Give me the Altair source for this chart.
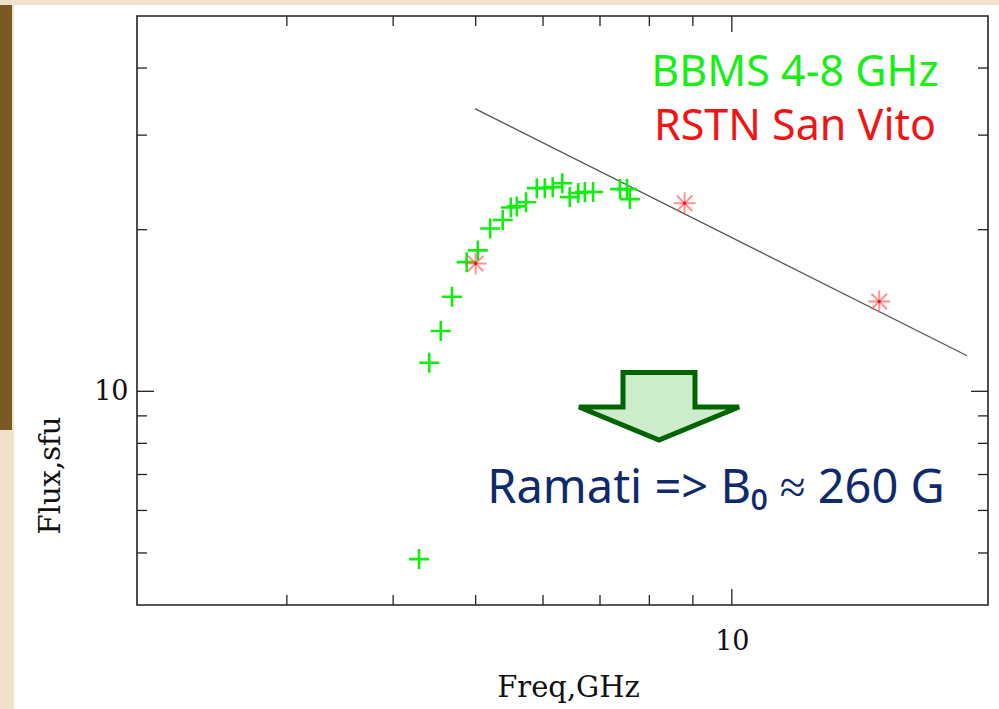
import altair as alt
import pandas as pd

# ---- data ----
bbms_freq = [4.29, 4.41, 4.55, 4.69, 4.88, 5.03, 5.20, 5.38, 5.50, 5.59, 5.73,
             5.90, 6.03, 6.16, 6.32, 6.45, 6.60, 6.72, 6.87, 7.39, 7.53, 7.59]
bbms_flux = [4.87, 11.3, 12.95, 15.0, 17.4, 18.3, 20.1, 20.85, 22.0, 22.1, 22.5,
             23.9, 23.9, 24.0, 24.4, 23.0, 23.4, 23.5, 23.5, 23.8, 23.8, 22.8]

rstn_freq = [5.0, 8.8, 14.9]
rstn_flux = [17.3, 22.4, 14.7]

fit_freq = [4.99, 18.9]
fit_flux = [33.6, 11.65]

x_minor = [3, 4, 5, 6, 7, 8, 9]
x_major = [10]
y_minor = [5, 6, 7, 8, 9, 20, 30, 40]
y_major = [10]

W, H = 851, 589

bbms = pd.DataFrame({"freq": bbms_freq, "flux": bbms_flux})
rstn = pd.DataFrame({"freq": rstn_freq, "flux": rstn_flux})
fit = pd.DataFrame({"freq": fit_freq, "flux": fit_flux})
one = pd.DataFrame({"a": [0]})

xs = alt.Scale(type="log", domain=[2, 20], nice=False)
ys = alt.Scale(type="log", domain=[4, 50], nice=False)

serif = "DejaVu Serif"
x_axis = alt.Axis(values=[10], format="d", ticks=False, tickSize=0, domain=False,
                  grid=False, labelFont=serif, labelFontSize=27, labelColor="#111",
                  labelPadding=23, title="Freq,GHz", titleFont=serif,
                  titleFontSize=29, titleFontWeight="normal", titleColor="#111",
                  titleX=431, titleY=91, titleBaseline="alphabetic", titleAlign="center")
y_axis = alt.Axis(values=[10], format="d", ticks=False, tickSize=0, domain=False,
                  grid=False, labelFont=serif, labelFontSize=27, labelColor="#111",
                  labelPadding=9, title="Flux,sfu", titleFont=serif,
                  titleFontSize=29, titleFontWeight="normal", titleColor="#111",
                  titleX=-87, titleY=459, titleBaseline="middle", titleAlign="center",
                  titleAngle=270)

X = lambda f: alt.X(f, type="quantitative", scale=xs, axis=x_axis)
Y = lambda f: alt.Y(f, type="quantitative", scale=ys, axis=y_axis)

# slide background pieces (outside the plot)
left_strip = alt.Chart(one).mark_rect(color="#efe3cb").encode(
    x=alt.value(-137), x2=alt.value(-123), y=alt.value(-16), y2=alt.value(H + 104))
brown_strip = alt.Chart(one).mark_rect(color="#7a5a22").encode(
    x=alt.value(-137), x2=alt.value(-125), y=alt.value(-16), y2=alt.value(414))
top_strip = alt.Chart(one).mark_rect(color="#efe3cb").encode(
    x=alt.value(-137), x2=alt.value(W + 11), y=alt.value(-16), y2=alt.value(-11))

# inward ticks on all four sides
def xticks(vals, ln):
    d = pd.DataFrame({"v": vals})
    b = alt.Chart(d).mark_rule(color="#222", strokeWidth=1.3).encode(
        x=X("v"), y=alt.value(H), y2=alt.value(H - ln))
    t = alt.Chart(d).mark_rule(color="#222", strokeWidth=1.3).encode(
        x=X("v"), y=alt.value(0), y2=alt.value(ln))
    return [b, t]

def yticks(vals, ln):
    d = pd.DataFrame({"v": vals})
    l = alt.Chart(d).mark_rule(color="#222", strokeWidth=1.3).encode(
        y=Y("v"), x=alt.value(0), x2=alt.value(ln))
    r = alt.Chart(d).mark_rule(color="#222", strokeWidth=1.3).encode(
        y=Y("v"), x=alt.value(W), x2=alt.value(W - ln))
    return [l, r]

ticks = xticks(x_minor, 10) + xticks(x_major, 16) + yticks(y_minor, 10) + yticks(y_major, 17)

fit_line = alt.Chart(fit).mark_line(color="#555", strokeWidth=1.3).encode(
    x=X("freq"), y=Y("flux"))

cross_path = "M-1,0L1,0M0,-1L0,1"
star_path = "M-1,0L1,0M0,-1L0,1M-0.71,-0.71L0.71,0.71M-0.71,0.71L0.71,-0.71"
arrow_path = "M-0.45,-0.419L0.45,-0.419L0.45,0.0125L1,0.0125L0,0.425L-1,0.0125L-0.45,0.0125Z"

green_pts = alt.Chart(bbms).mark_point(shape=cross_path, size=400, filled=False,
                                       stroke="#10ee10", strokeWidth=2.6, opacity=1).encode(
    x=X("freq"), y=Y("flux"))

red_pts = alt.Chart(rstn).mark_point(shape=star_path, size=480, filled=False,
                                     stroke="#ff5a5a", strokeWidth=2.0, opacity=0.65).encode(
    x=X("freq"), y=Y("flux"))
red_dots = alt.Chart(rstn).mark_point(shape="circle", size=12, filled=True,
                                      color="#e81818", opacity=1).encode(
    x=X("freq"), y=Y("flux"))

arrow = alt.Chart(one).mark_point(shape=arrow_path, size=25600, filled=True,
                                  fill="#cdeccb", stroke="#006400", strokeWidth=5,
                                  opacity=1, fillOpacity=1, strokeOpacity=1).encode(
    x=alt.value(522), y=alt.value(390))

sans = "Noto Sans"
t1 = alt.Chart(one).mark_text(text="BBMS 4-8 GHz", font=sans, fontSize=43,
                              color="#18ee18", align="center", baseline="alphabetic").encode(
    x=alt.value(658), y=alt.value(70))
t2 = alt.Chart(one).mark_text(text="RSTN San Vito", font=sans, fontSize=43,
                              color="#f01414", align="center", baseline="alphabetic").encode(
    x=alt.value(658), y=alt.value(124))
t3 = alt.Chart(one).mark_text(text="Ramati => B₀ ≈ 260 G", font=sans, fontSize=47,
                              color="#0f2a6b", align="center", baseline="alphabetic").encode(
    x=alt.value(579), y=alt.value(487))

chart = alt.layer(
    left_strip, brown_strip, top_strip, *ticks, fit_line, green_pts, red_pts, red_dots,
    arrow, t1, t2, t3
).properties(
    width=W, height=H,
    autosize=alt.AutoSizeParams(type="none"),
    padding={"left": 137, "top": 16, "right": 11, "bottom": 104},
    background="white",
).configure_view(stroke="#222", strokeWidth=1.6)

chart.save("out.html", embed_options={"renderer": "svg", "actions": False})
